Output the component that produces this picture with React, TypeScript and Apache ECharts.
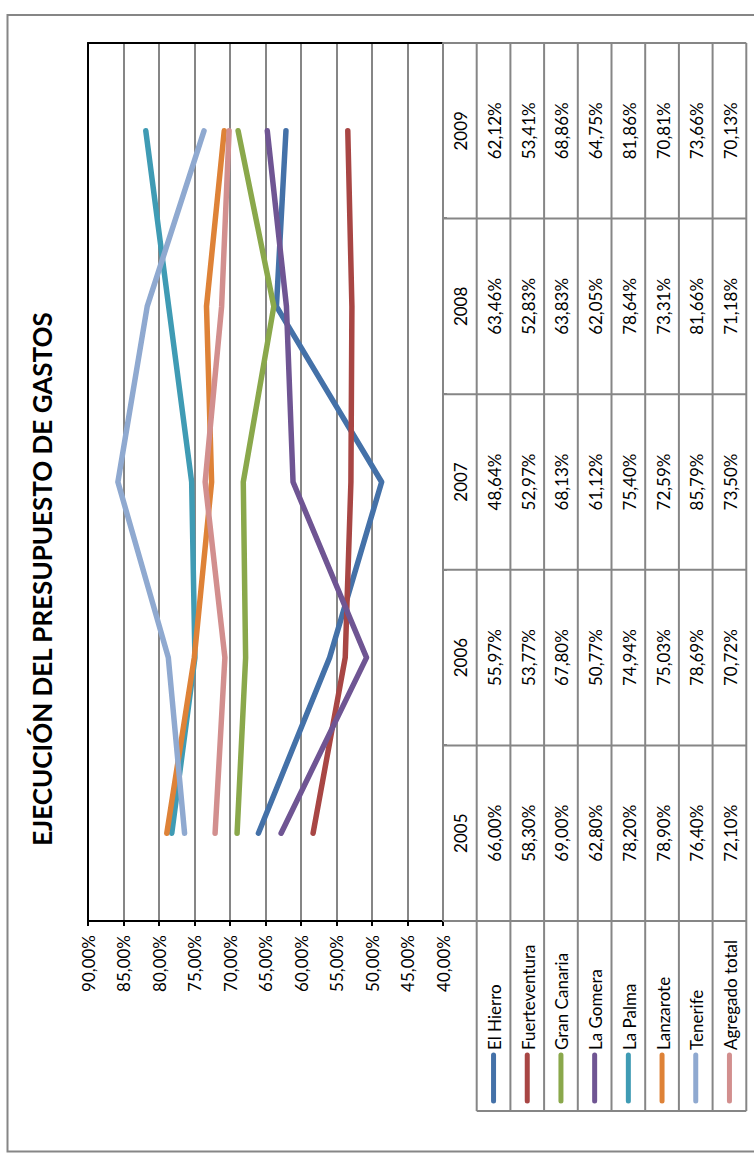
import React, { useEffect, useRef } from "react";
import * as echarts from "echarts";

const years = ["2005", "2006", "2007", "2008", "2009"];
const seriesNames = [
  "El Hierro",
  "Fuerteventura",
  "Gran Canaria",
  "La Gomera",
  "La Palma",
  "Lanzarote",
  "Tenerife",
  "Agregado total",
];
const elHierro = [66.0, 55.97, 48.64, 63.46, 62.12];
const fuerteventura = [58.3, 53.77, 52.97, 52.83, 53.41];
const granCanaria = [69.0, 67.8, 68.13, 63.83, 68.86];
const laGomera = [62.8, 50.77, 61.12, 62.05, 64.75];
const laPalma = [78.2, 74.94, 75.4, 78.64, 81.86];
const lanzarote = [78.9, 75.03, 72.59, 73.31, 70.81];
const tenerife = [76.4, 78.69, 85.79, 81.66, 73.66];
const agregadoTotal = [72.1, 70.72, 73.5, 71.18, 70.13];
const seriesValues = [elHierro, fuerteventura, granCanaria, laGomera, laPalma, lanzarote, tenerife, agregadoTotal];
const colors = ["#4471A8", "#A84644", "#8AA84B", "#6F5593", "#3F9BB4", "#DE8237", "#8FA9D0", "#D28F8E"];
const valueTicks = [40, 45, 50, 55, 60, 65, 70, 75, 80, 85, 90];
const valueTickLabels = ["40,00%", "45,00%", "50,00%", "55,00%", "60,00%", "65,00%", "70,00%", "75,00%", "80,00%", "85,00%", "90,00%"];
const titleText = "EJECUCIÓN DEL PRESUPUESTO DE GASTOS";

const W = 1158;
const H = 754;
const FONT = "Lato, 'Open Sans', sans-serif";
const FS = 17;
const GRID_GRAY = "#868686";
const LEG_LEFT = 47;
const RH = 33.7;

const fmt = (v: number) => v.toFixed(2).replace(".", ",") + "%";

export default function App() {
  const ref = useRef<HTMLDivElement>(null);
  useEffect(() => {
    if (!ref.current) return;
    const chart = echarts.init(ref.current, null, { renderer: "svg", width: W, height: H });
    const option: any = {
      animation: false,
      backgroundColor: "#ffffff",
      textStyle: { fontFamily: FONT },
      title: {
        text: titleText,
        left: "center",
        top: 24,
        textStyle: { fontSize: 26, fontWeight: "bold", color: "#000", fontFamily: FONT },
      },
      grid: { left: 237, right: 43, top: 88, bottom: 311 },
      xAxis: [
        {
          type: "category",
          data: years,
          position: "bottom",
          boundaryGap: true,
          axisLine: { show: true, lineStyle: { color: GRID_GRAY, width: 2 } },
          axisTick: { show: true, length: 4, lineStyle: { color: GRID_GRAY, width: 2 } },
          axisLabel: { show: false },
          splitLine: { show: false },
        },
        {
          type: "category",
          data: years,
          position: "top",
          boundaryGap: true,
          axisLine: { show: true, lineStyle: { color: "#000", width: 2 } },
          axisTick: { show: false },
          axisLabel: { show: false },
          splitLine: { show: false },
        },
      ],
      yAxis: [
        {
          type: "value",
          min: 40,
          max: 90,
          interval: 5,
          position: "left",
          axisLine: { show: true, lineStyle: { color: "#000", width: 2 } },
          axisTick: { show: true, length: 5, inside: false, lineStyle: { color: "#000", width: 2 } },
          axisLabel: {
            show: true,
            margin: 14,
            fontSize: FS,
            color: "#000",
            fontFamily: FONT,
            formatter: (v: number) => valueTickLabels[valueTicks.indexOf(Math.round(v))] ?? "",
          },
          splitLine: { show: true, lineStyle: { color: GRID_GRAY, width: 2 } },
        },
        {
          type: "value",
          min: 40,
          max: 90,
          interval: 5,
          position: "right",
          axisLine: { show: true, lineStyle: { color: "#000", width: 2 } },
          axisTick: { show: false },
          axisLabel: { show: false },
          splitLine: { show: false },
        },
      ],
      series: seriesNames.map((name, i) => ({
        name,
        type: "line",
        data: seriesValues[i],
        xAxisIndex: 0,
        yAxisIndex: 0,
        showSymbol: false,
        symbol: "none",
        lineStyle: { color: colors[i], width: 5.5, cap: "round", join: "round" },
        itemStyle: { color: colors[i] },
      })),
    };
    chart.setOption(option);

    const cx = years.map((y) => chart.convertToPixel({ xAxisIndex: 0 }, y) as number);
    const bw = cx[1] - cx[0];
    const edges = [cx[0] - bw / 2, ...cx.map((c) => c + bw / 2)];
    const yTop = chart.convertToPixel({ yAxisIndex: 0 }, 40) as number;
    const nRows = seriesNames.length + 1;
    const yBottom = yTop + nRows * RH;
    const right = edges[edges.length - 1];

    const g: any[] = [];
    g.push({
      type: "rect",
      shape: { x: 6.5, y: 7.5, width: 1136.5, height: 748 },
      style: { fill: "none", stroke: GRID_GRAY, lineWidth: 2 },
      z: 1,
    });
    for (let r = 0; r <= nRows; r++) {
      const y = yTop + r * RH;
      g.push({
        type: "line",
        shape: { x1: r === 0 ? edges[0] : LEG_LEFT, y1: y, x2: right, y2: y },
        style: { stroke: GRID_GRAY, lineWidth: 2 },
        z: 50,
      });
    }
    edges.forEach((x) => {
      g.push({
        type: "line",
        shape: { x1: x, y1: yTop, x2: x, y2: yBottom },
        style: { stroke: GRID_GRAY, lineWidth: 2 },
        z: 50,
      });
    });
    g.push({
      type: "line",
      shape: { x1: LEG_LEFT, y1: yTop + RH, x2: LEG_LEFT, y2: yBottom },
      style: { stroke: GRID_GRAY, lineWidth: 2 },
      z: 50,
    });
    years.forEach((yr, i) => {
      g.push({
        type: "text",
        x: cx[i],
        y: yTop + RH / 2 + 1,
        style: { text: yr, fill: "#000", fontSize: FS, fontFamily: FONT, align: "center", verticalAlign: "middle" },
        z: 51,
      });
    });
    seriesNames.forEach((name, s) => {
      const yc = yTop + (s + 1.5) * RH;
      seriesValues[s].forEach((v, i) => {
        g.push({
          type: "text",
          x: cx[i],
          y: yc + 1,
          style: { text: fmt(v), fill: "#000", fontSize: FS, fontFamily: FONT, align: "center", verticalAlign: "middle" },
          z: 51,
        });
      });
      g.push({
        type: "line",
        shape: { x1: 57, y1: yc, x2: 103, y2: yc },
        style: { stroke: colors[s], lineWidth: 5, lineCap: "round" },
        z: 51,
      });
      g.push({
        type: "text",
        x: 108,
        y: yc + 1,
        style: { text: name, fill: "#000", fontSize: FS, fontFamily: FONT, align: "left", verticalAlign: "middle" },
        z: 51,
      });
    });
    chart.setOption({ graphic: g });

    return () => chart.dispose();
  }, []);

  return (
    <div
      style={{
        position: "absolute",
        left: 0,
        top: 0,
        width: 754,
        height: 1158,
        overflow: "hidden",
        background: "#fff",
      }}
    >
      <div
        ref={ref}
        style={{
          position: "absolute",
          left: 0,
          top: 0,
          width: W,
          height: H,
          transformOrigin: "0 0",
          transform: "translate(0px, 1158px) rotate(-90deg)",
        }}
      />
    </div>
  );
}
